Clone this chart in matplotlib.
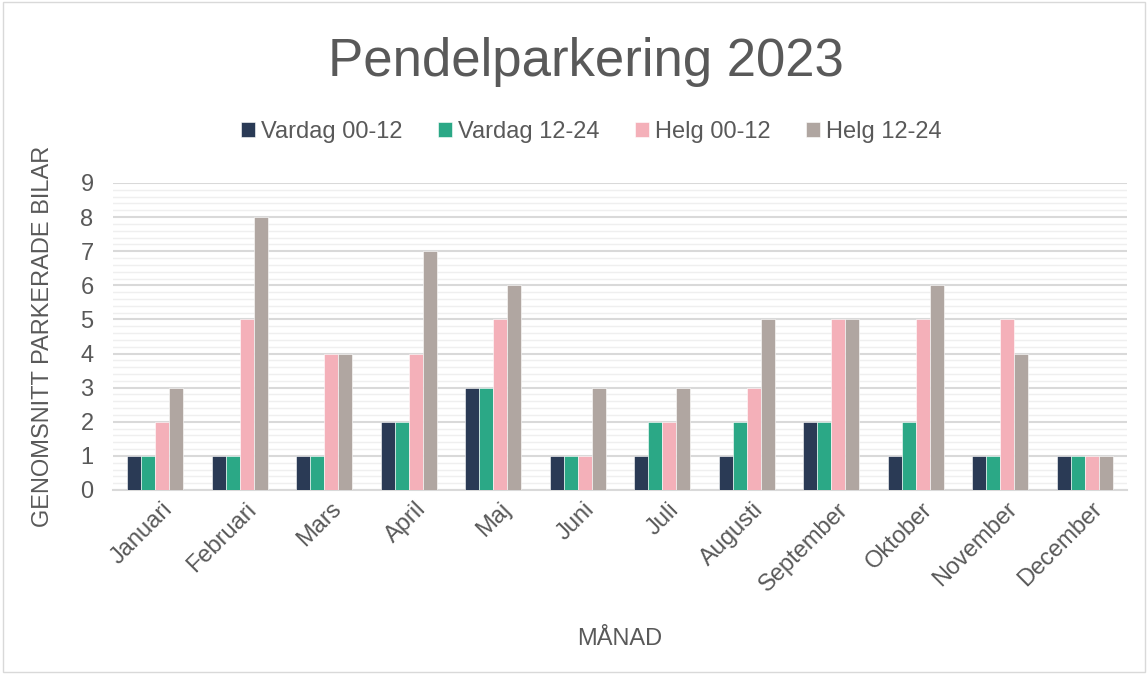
import matplotlib.pyplot as plt
import numpy as np
from matplotlib.patches import Rectangle
from matplotlib.transforms import ScaledTranslation

months = ['Januari', 'Februari', 'Mars', 'April', 'Maj', 'Juni', 'Juli',
          'Augusti', 'September', 'Oktober', 'November', 'December']
vardag_00_12 = [1, 1, 1, 2, 3, 1, 1, 1, 2, 1, 1, 1]
vardag_12_24 = [1, 1, 1, 2, 3, 1, 2, 2, 2, 2, 1, 1]
helg_00_12 = [2, 5, 4, 4, 5, 1, 2, 3, 5, 5, 5, 1]
helg_12_24 = [3, 8, 4, 7, 6, 3, 3, 5, 5, 6, 4, 1]

series = [('Vardag 00-12', vardag_00_12, '#2A3A55'),
          ('Vardag 12-24', vardag_12_24, '#2BA886'),
          ('Helg 00-12', helg_00_12, '#F4B0B9'),
          ('Helg 12-24', helg_12_24, '#B0A6A1')]

plt.rcParams['font.family'] = ['Liberation Sans', 'DejaVu Sans']
txt = '#595959'

fig = plt.figure(figsize=(11.48, 6.74), dpi=100)
ax = fig.add_axes([0.0984, 0.273, 0.8833, 0.4555])

x = np.arange(len(months))
w = 0.166
for i, (name, vals, col) in enumerate(series):
    ax.bar(x + (i - 1.5) * w, vals, w, color=col, label=name,
           edgecolor='white', linewidth=0.4, zorder=3)

ax.set_xlim(-0.5, len(months) - 0.5)
ax.set_ylim(0, 9)
ax.set_yticks(range(10))
ax.set_yticks(np.arange(0, 9, 0.2), minor=True)
ax.grid(axis='y', which='major', color='#D9D9D9', linewidth=1.5, zorder=0)
ax.grid(axis='y', which='minor', color='#EFEFEF', linewidth=1.0, zorder=0)
ax.tick_params(axis='both', which='both', length=0, colors=txt, labelsize=17)
ax.tick_params(axis='y', pad=14)
ax.tick_params(axis='x', pad=6)
ax.set_xticks(x)
ax.set_xticklabels(months, rotation=45, ha='right', rotation_mode='anchor')
# Excel puts the rotated labels a bit to the right of the group centre
shift = ScaledTranslation(0.06, 0, fig.dpi_scale_trans)
for lab in ax.get_xticklabels():
    lab.set_transform(lab.get_transform() + shift)
for s in ['top', 'right', 'left']:
    ax.spines[s].set_visible(False)
ax.spines['bottom'].set_color('#D9D9D9')
ax.spines['bottom'].set_linewidth(1.5)

ax.set_ylabel('GENOMSNITT PARKERADE BILAR', fontsize=17, color=txt, labelpad=19)
ax.set_xlabel('MÅNAD', fontsize=17, color=txt, labelpad=23)

fig.text(0.51, 0.908, 'Pendelparkering 2023', fontsize=38, color=txt,
         ha='center', va='center')
ax.legend(loc='center', bbox_to_anchor=(0.472, 1.166), ncol=4, frameon=False,
          fontsize=17, labelcolor=txt, handlelength=0.6, handleheight=0.6,
          handletextpad=0.25, columnspacing=1.5)

fig.patches.append(Rectangle((0.003, 0.003), 0.994, 0.994, transform=fig.transFigure,
                             fill=False, edgecolor='#D9D9D9', linewidth=1))

plt.savefig('out.png', dpi=100)
